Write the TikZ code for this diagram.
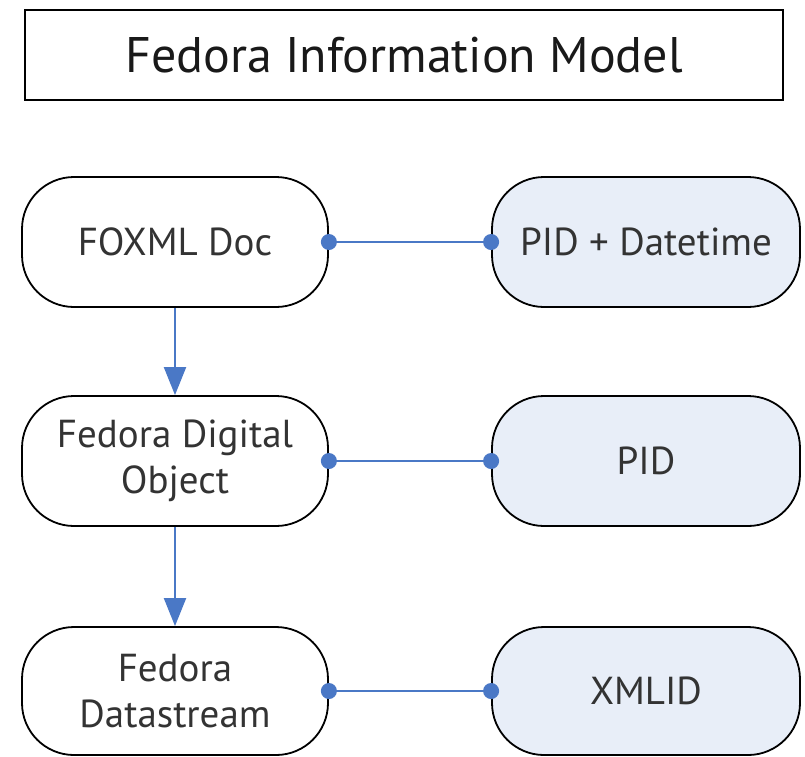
\documentclass[tikz,border=0pt]{standalone}
\usepackage{fontspec}
\setmainfont{PT Sans}
\usetikzlibrary{arrows.meta}
\definecolor{linkblue}{HTML}{4A78C6}
\definecolor{keyfill}{HTML}{E8EEF8}
\tikzset{
  entity/.style={draw=black, line width=1.8pt, rounded corners=52pt, minimum width=306pt, minimum height=130pt, align=center, font=\fontsize{39}{46}\selectfont, text=black!80, inner sep=0pt},
  keybox/.style={entity, fill=keyfill, minimum width=308pt},
  link/.style={draw=linkblue, line width=2pt, {Circle[length=16pt]}-{Circle[length=16pt]}, shorten <=-8pt, shorten >=-8pt},
  flow/.style={draw=linkblue, line width=2pt, -{Triangle[length=28pt,width=22pt]}}
}
\begin{document}
\begin{tikzpicture}[x=1pt,y=-1pt]
\useasboundingbox (0,0) rectangle (805,756);
\node[draw=black, line width=1.8pt, minimum width=758pt, minimum height=90pt, inner sep=0pt, font=\fontsize{50}{56}\selectfont, text=black!90] (title) at (404,55) {Fedora Information Model};
\node[entity] (foxml) at (175,242) {FOXML Doc};
\node[entity] (obj) at (175,461) {Fedora Digital\\Object};
\node[entity, minimum height=128pt] (ds) at (175,691) {Fedora\\Datastream};
\node[keybox] (pidd) at (646,242) {PID + Datetime};
\node[keybox] (pid) at (646,461) {PID};
\node[keybox, minimum height=128pt] (xmlid) at (646,691) {XMLID};
\draw[link] (foxml.east) -- (pidd.west);
\draw[link] (obj.east) -- (pid.west);
\draw[link] (ds.east) -- (xmlid.west);
\draw[flow] (foxml.south) -- (obj.north);
\draw[flow] (obj.south) -- (ds.north);
\end{tikzpicture}
\end{document}
